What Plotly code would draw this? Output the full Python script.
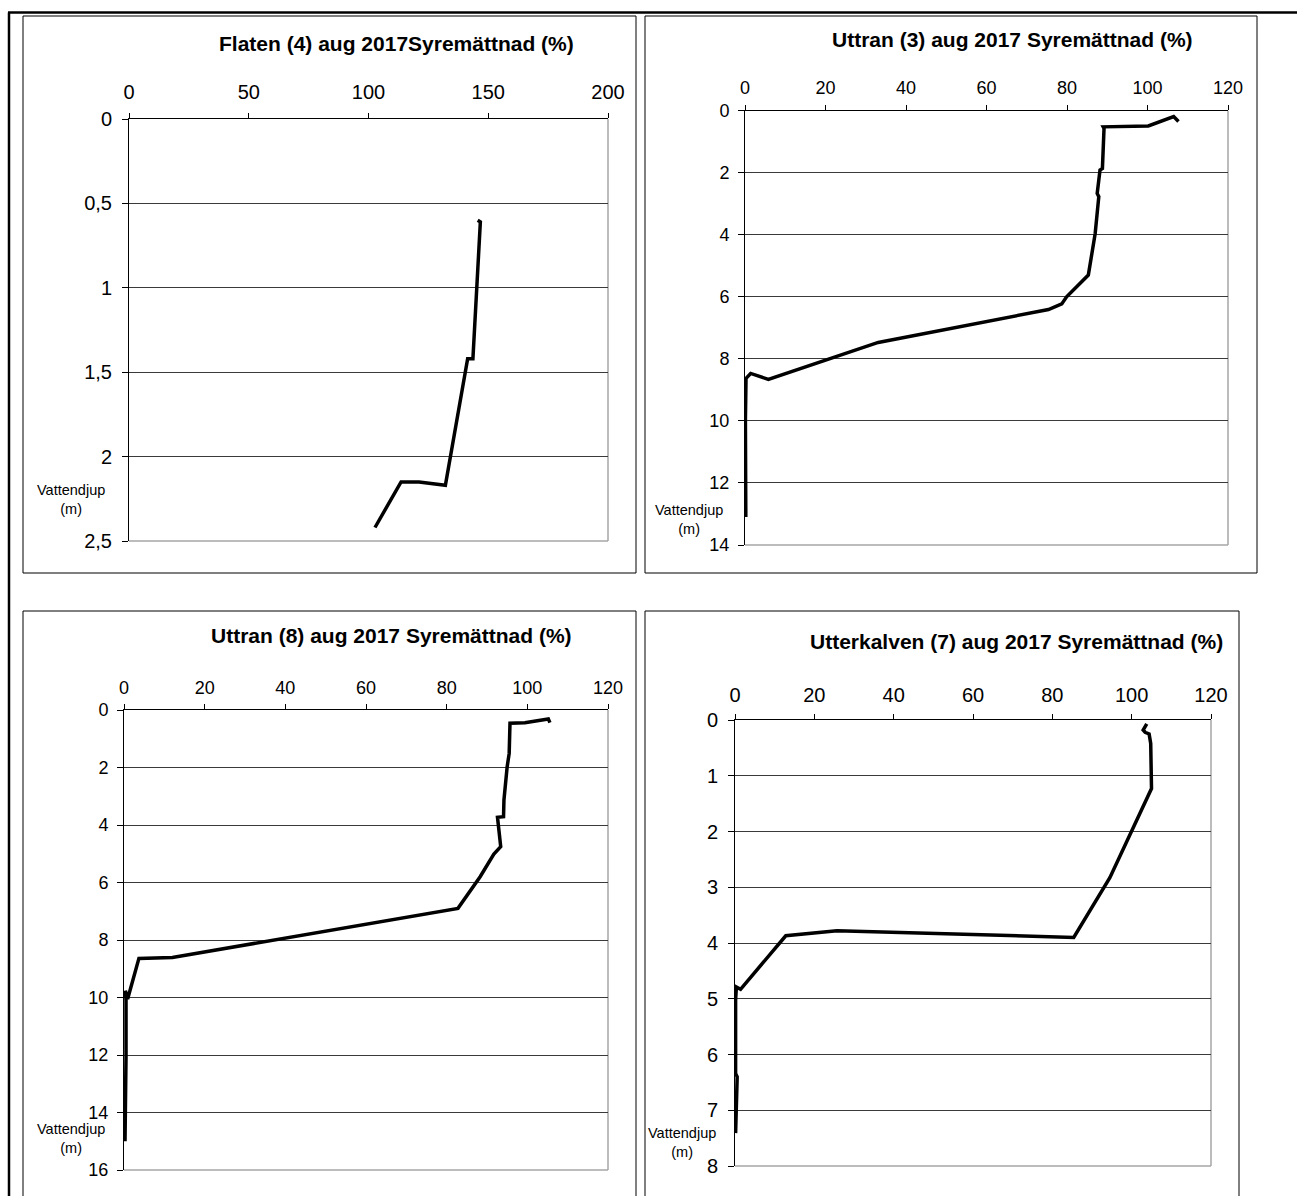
import plotly.graph_objects as go

W, H = 1297, 1196

# ---------------- data ----------------
titles = [
    "Flaten (4) aug 2017Syremättnad (%)",
    "Uttran (3) aug 2017 Syremättnad (%)",
    "Uttran (8) aug 2017 Syremättnad (%)",
    "Utterkalven (7) aug 2017 Syremättnad (%)",
]
depth_label = "Vattendjup<br>(m)"

flaten_oxygen = [145.6, 146.7, 143.6, 141.4, 132.1, 121.1, 113.6, 102.7]
flaten_depth = [0.60, 0.61, 1.42, 1.42, 2.17, 2.15, 2.15, 2.42]

uttran3_oxygen = [107.7, 106.5, 100.2, 89.0, 89.2, 88.8, 88.2, 87.5, 87.9, 87.0,
                  85.3, 79.9, 78.7, 75.4, 33.1, 5.8, 1.4, 0.25, 0.1, 0.2]
uttran3_depth = [0.35, 0.19, 0.49, 0.52, 0.57, 1.86, 1.91, 2.67, 2.77, 3.96,
                 5.30, 6.00, 6.23, 6.41, 7.47, 8.66, 8.47, 8.63, 9.98, 13.1]

uttran8_oxygen = [105.6, 105.2, 99.4, 95.7, 95.5, 95.0, 94.2, 94.1, 92.6, 93.4,
                  91.7, 88.3, 82.8, 12.0, 3.7, 0.9, 0.35, 0.5, 0.5, 0.25]
uttran8_depth = [0.44, 0.31, 0.44, 0.46, 1.51, 1.97, 3.13, 3.71, 3.73, 4.75,
                 5.01, 5.80, 6.90, 8.61, 8.64, 10.05, 9.76, 10.1, 12.06, 15.0]

utterkalven_oxygen = [103.8, 102.9, 103.4, 104.4, 104.8, 105.0, 94.5, 85.4,
                      25.7, 12.8, 1.4, 0.35, 0.15, 0.15, 0.55, 0.15]
utterkalven_depth = [0.07, 0.18, 0.22, 0.25, 0.42, 1.23, 2.83, 3.90,
                     3.78, 3.87, 4.83, 4.79, 5.02, 6.34, 6.40, 7.41]

x_ticks_1 = [0, 50, 100, 150, 200]
y_ticks_1 = [0, 0.5, 1, 1.5, 2, 2.5]
y_ticktext_1 = ["0", "0,5", "1", "1,5", "2", "2,5"]
x_ticks_234 = [0, 20, 40, 60, 80, 100, 120]
y_ticks_2 = [0, 2, 4, 6, 8, 10, 12, 14]
y_ticks_3 = [0, 2, 4, 6, 8, 10, 12, 14, 16]
y_ticks_4 = [0, 1, 2, 3, 4, 5, 6, 7, 8]

# ---------------- layout helpers ----------------
def px(x):
    return x / W

def py(y):
    return 1 - y / H

FONT = "Liberation Sans, Arial, sans-serif"

panels = [
    dict(x=flaten_oxygen, y=flaten_depth, dom=(129, 608, 119, 541), xr=[0, 200],
         xt=x_ticks_1, yt=y_ticks_1, ytt=y_ticktext_1, yr=[2.5, 0], fs=20, xs=6, ys=6,
         box=(23, 16, 636, 573), title=(396, 44, 21), lab=(71, 500)),
    dict(x=uttran3_oxygen, y=uttran3_depth, dom=(745, 1228, 110.7, 545), xr=[0, 120],
         xt=x_ticks_234, yt=y_ticks_2, ytt=[str(v) for v in y_ticks_2], yr=[14, 0], fs=18, xs=4, ys=5,
         box=(645, 16, 1257, 573), title=(1012, 40, 21), lab=(689, 519)),
    dict(x=uttran8_oxygen, y=uttran8_depth, dom=(124, 608, 710, 1170), xr=[0, 120],
         xt=x_ticks_234, yt=y_ticks_3, ytt=[str(v) for v in y_ticks_3], yr=[16, 0], fs=18, xs=3, ys=5,
         box=(23, 611, 636, 1210), title=(391.5, 635, 21), lab=(71, 1138)),
    dict(x=utterkalven_oxygen, y=utterkalven_depth, dom=(735, 1211, 720, 1166), xr=[0, 120],
         xt=x_ticks_234, yt=y_ticks_4, ytt=[str(v) for v in y_ticks_4], yr=[8, 0], fs=20, xs=4, ys=6,
         box=(645, 611, 1239, 1210), title=(1016.5, 641, 21), lab=(682, 1142)),
]

fig = go.Figure()
shapes = []
annotations = []
layout_axes = {}

for i, p in enumerate(panels, start=1):
    sfx = "" if i == 1 else str(i)
    fig.add_trace(go.Scatter(
        x=p["x"], y=p["y"], mode="lines",
        line=dict(color="black", width=3.5),
        xaxis="x" + sfx, yaxis="y" + sfx, showlegend=False, hoverinfo="skip",
    ))
    x0, x1, y0, y1 = p["dom"]
    layout_axes["xaxis" + sfx] = dict(
        domain=[px(x0), px(x1)], range=p["xr"], side="top", automargin=False,
        anchor="y" + sfx, tickvals=p["xt"], ticks="outside", ticklen=5,
        tickcolor="black", showline=True, linecolor="black", linewidth=1,
        showgrid=False, zeroline=False, fixedrange=True, ticklabelstandoff=p["xs"],
        tickfont=dict(family=FONT, size=p["fs"], color="black"),
    )
    layout_axes["yaxis" + sfx] = dict(
        domain=[py(y1), py(y0)], range=p["yr"], anchor="x" + sfx, automargin=False,
        tickvals=p["yt"], ticktext=p["ytt"], ticks="outside", ticklen=6,
        tickcolor="black", showline=True, linecolor="black", linewidth=1,
        showgrid=True, gridcolor="#3a3a3a", gridwidth=1, zeroline=False,
        fixedrange=True, ticklabelstandoff=p["ys"],
        tickfont=dict(family=FONT, size=p["fs"], color="black"),
    )
    # plot area right/bottom border (light gray)
    shapes.append(dict(type="line", xref="paper", yref="paper",
                       x0=px(x1), x1=px(x1), y0=py(y0), y1=py(y1),
                       line=dict(color="#a6a6a6", width=1.5), layer="below"))
    shapes.append(dict(type="line", xref="paper", yref="paper",
                       x0=px(x0), x1=px(x1), y0=py(y1), y1=py(y1),
                       line=dict(color="#a6a6a6", width=1.5), layer="below"))
    # panel box
    bx0, by0, bx1, by1 = p["box"]
    shapes.append(dict(type="rect", xref="paper", yref="paper",
                       x0=px(bx0), x1=px(bx1), y0=py(by1), y1=py(by0),
                       line=dict(color="black", width=1), fillcolor="rgba(0,0,0,0)"))
    tx, ty, tfs = p["title"]
    annotations.append(dict(text="<b>" + titles[i - 1] + "</b>", x=px(tx), y=py(ty),
                            xref="paper", yref="paper", showarrow=False,
                            xanchor="center", yanchor="middle",
                            font=dict(family=FONT, size=tfs, color="black")))
    lx, ly = p["lab"]
    annotations.append(dict(text=depth_label, x=px(lx), y=py(ly),
                            xref="paper", yref="paper", showarrow=False,
                            xanchor="center", yanchor="middle",
                            font=dict(family=FONT, size=14.5, color="black")))

# outer page frame lines
shapes.append(dict(type="line", xref="paper", yref="paper",
                   x0=px(8), x1=px(1297), y0=py(12.5), y1=py(12.5),
                   line=dict(color="black", width=2.5)))
shapes.append(dict(type="line", xref="paper", yref="paper",
                   x0=px(9), x1=px(9), y0=py(12.5), y1=py(1210),
                   line=dict(color="black", width=2.5)))

fig.update_layout(
    width=W, height=H, margin=dict(l=0, r=0, t=0, b=0, autoexpand=False),
    paper_bgcolor="white", plot_bgcolor="white",
    shapes=shapes, annotations=annotations, showlegend=False,
    **layout_axes,
)

fig.write_html(
    "out.html",
    config={"displayModeBar": False},
    post_script="document.body.style.margin='0';document.body.style.padding='0';"
                "document.documentElement.style.overflow='hidden';",
)
